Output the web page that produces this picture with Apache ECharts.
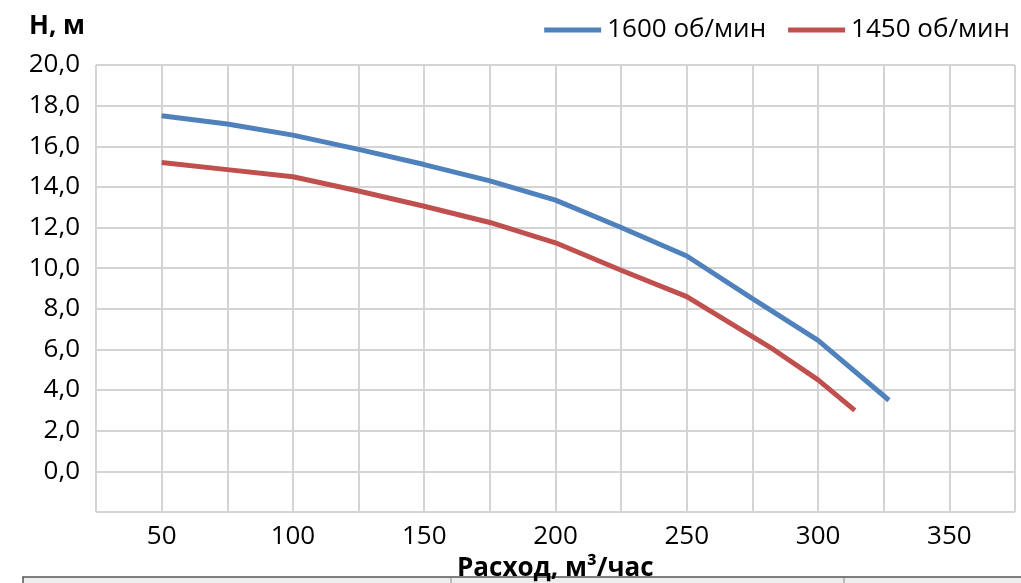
<!DOCTYPE html>
<html>
<head>
<meta charset="utf-8">
<script src="https://cdn.jsdelivr.net/npm/echarts@6/dist/echarts.min.js"></script>
<style>
html,body{margin:0;padding:0;background:#fff;}
#c{width:1021px;height:583px;}
</style>
</head>
<body>
<div id="c"></div>
<script>
var seriesNames = ['1600 об/мин', '1450 об/мин'];
var flow1600 = [50, 75, 100, 125, 150, 175, 200, 225, 250, 275, 300, 327];
var head1600 = [17.5, 17.1, 16.55, 15.85, 15.1, 14.3, 13.35, 12.0, 10.6, 8.5, 6.45, 3.5];
var flow1450 = [50, 75, 100, 125, 150, 175, 200, 225, 250, 283, 300, 314];
var head1450 = [15.2, 14.85, 14.5, 13.8, 13.05, 12.25, 11.25, 9.9, 8.6, 6.0, 4.5, 3.0];
var yTitle = 'Н, м';
var xTitle = 'Расход, м³/час';

function pairs(xs, ys){ return xs.map(function(x,i){ return [x, ys[i]]; }); }

var FONT = '"Open Sans", "Noto Sans", sans-serif';
var chart = echarts.init(document.getElementById('c'), null, {renderer:'canvas'});
chart.setOption({
  animation: false,
  backgroundColor: '#ffffff',
  textStyle: {fontFamily: FONT},
  grid: {left: 96, top: 65, right: 6, bottom: 71, containLabel: false},
  legend: {
    right: 6, top: 12,
    itemWidth: 57, itemHeight: 5, itemGap: 22,
    icon: 'rect',
    textStyle: {fontFamily: FONT, fontSize: 26, color: '#000', padding: [0,0,0,1]},
    data: seriesNames
  },
  xAxis: {
    type: 'value', min: 25, max: 375, interval: 25,
    axisLine: {show: false}, axisTick: {show: false},
    splitLine: {show: true, lineStyle: {color: '#d4d4d4', width: 2}},
    axisLabel: {
      fontFamily: FONT, fontSize: 26, color: '#000', margin: 12,
      formatter: function(v){ return v % 50 === 0 ? String(v) : ''; }
    }
  },
  yAxis: {
    type: 'value', min: -2, max: 20, interval: 2,
    axisLine: {show: false}, axisTick: {show: false},
    splitLine: {show: true, lineStyle: {color: '#d4d4d4', width: 2}},
    axisLabel: {
      fontFamily: FONT, fontSize: 26, color: '#000', margin: 16,
      formatter: function(v){ return v < 0 ? '' : v.toFixed(1).replace('.', ','); }
    }
  },
  graphic: [
    {type: 'text', left: 29, top: 14, style: {text: yTitle, font: 'bold 26px ' + FONT, fill: '#000'}},
    {type: 'rect', z: 1, shape: {x: 23, y: 577, width: 1010, height: 12}, style: {fill: '#eeeeee', stroke: '#555555', lineWidth: 1.5}},
    {type: 'line', z: 1, shape: {x1: 451, y1: 578, x2: 451, y2: 583}, style: {stroke: '#888', lineWidth: 1}},
    {type: 'line', z: 1, shape: {x1: 844, y1: 578, x2: 844, y2: 583}, style: {stroke: '#888', lineWidth: 1}},
    {type: 'text', z: 10, left: 457, top: 556, style: {text: xTitle, font: 'bold 26px ' + FONT, fill: '#000'}}
  ],
  series: [
    {name: seriesNames[0], type: 'line', data: pairs(flow1600, head1600), showSymbol: false, symbol: 'none',
     lineStyle: {color: '#4f81bd', width: 5}, itemStyle: {color: '#4f81bd'}},
    {name: seriesNames[1], type: 'line', data: pairs(flow1450, head1450), showSymbol: false, symbol: 'none',
     lineStyle: {color: '#c0504d', width: 5}, itemStyle: {color: '#c0504d'}}
  ]
});
</script>
</body>
</html>
